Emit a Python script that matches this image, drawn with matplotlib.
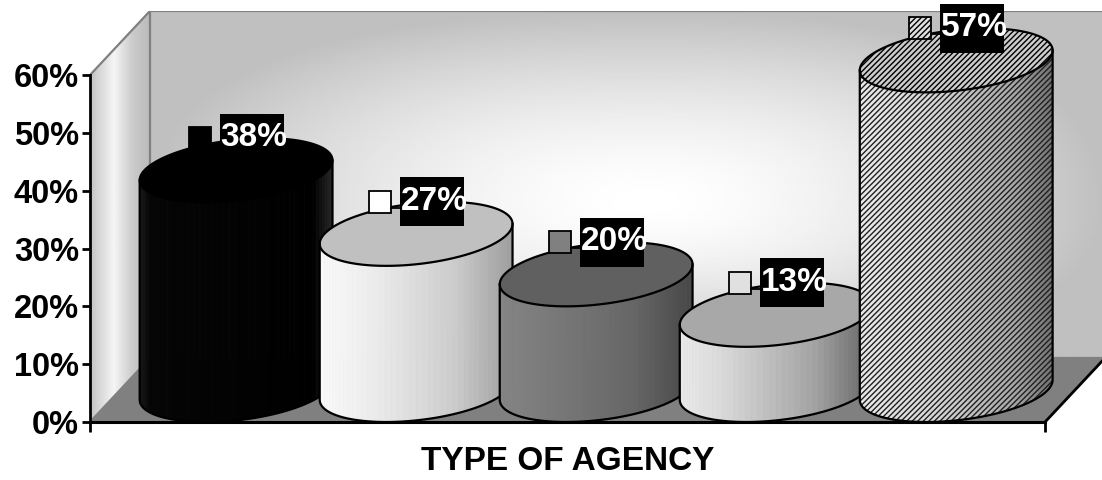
import numpy as np
import matplotlib
matplotlib.use('Agg')
import matplotlib.pyplot as plt
from matplotlib.patches import Polygon, Rectangle
from matplotlib.collections import PolyCollection
import matplotlib.transforms as mtransforms
from matplotlib.lines import Line2D

plt.rcParams['font.family'] = ['Liberation Sans', 'DejaVu Sans']
plt.rcParams['hatch.linewidth'] = 1.0

# ---------------- data ----------------
values = [38, 27, 20, 13, 57]
value_labels = ['38%', '27%', '20%', '13%', '57%']
y_ticks = [0, 10, 20, 30, 40, 50, 60]
y_tick_labels = ['0%', '10%', '20%', '30%', '40%', '50%', '60%']
x_title = 'TYPE OF AGENCY'

# ---------------- styles ----------------
side_stops = [
    [(0.0, 0.10), (0.06, 0.02), (0.9, 0.0), (1.0, 0.15)],
    [(0.0, 0.98), (0.3, 0.92), (0.7, 0.80), (1.0, 0.62)],
    [(0.0, 0.52), (0.3, 0.47), (0.7, 0.40), (1.0, 0.28)],
    [(0.0, 0.92), (0.25, 0.84), (0.7, 0.64), (1.0, 0.40)],
    [(0.0, 0.92), (0.4, 0.84), (0.8, 0.66), (1.0, 0.45)],
]
top_colors = ['#000000', '#c0c0c0', '#606060', '#a8a8a8', '#cccccc']
key_colors = ['#000000', '#ffffff', '#808080', '#e0e0e0', '#e0e0e0']
hatched = [False, False, False, False, True]

W, H = 1102, 480
fig = plt.figure(figsize=(W / 100, H / 100), dpi=100)
fig.patch.set_facecolor('white')

XMIN, XMAX = -0.645, 4.66     # front floor edge (category units)
DX, DY = 0.333, 11.07         # depth offset (x units, percent)
YMAX = 60
R = 0.509                     # cylinder radius along x

ax = fig.add_axes([90 / W, 58 / H, (1105 - 90) / W, (469 - 58) / H])
ax.set_xlim(XMIN, XMAX + DX)
ax.set_ylim(0, YMAX + DY)
ax.patch.set_visible(False)

# ---------------- walls ----------------
nx, ny = 300, 200
u = np.linspace(0, 1, nx)[None, :]
v = np.linspace(0, 1, ny)[:, None]
cu, cv = 0.52, 0.45
du = np.where(u < cu, (cu - u) / cu, (u - cu) / (1 - cu))
dv = np.where(v < cv, (cv - v) / cv, (v - cv) / (1 - cv))
p = 2.5
d = np.clip((du ** p + dv ** p) ** (1 / p), 0, 1)
g = 0.75 + 0.25 * (1 - d ** 1.6)
ax.imshow(g, cmap='gray', vmin=0, vmax=1, origin='lower', aspect='auto',
          interpolation='bilinear',
          extent=[XMIN + DX, XMAX + DX, DY, YMAX + DY], zorder=0)

lw_poly = Polygon([(XMIN, 0), (XMIN + DX, DY), (XMIN + DX, YMAX + DY), (XMIN, YMAX)],
                  closed=True, transform=ax.transData)
uu = np.linspace(0, 1, 100)
gl = np.interp(uu, [0, 0.15, 0.4, 0.7, 1.0], [0.76, 0.84, 0.96, 0.80, 0.73])
gl = np.tile(gl[None, :], (50, 1))
im_l = ax.imshow(gl, cmap='gray', vmin=0, vmax=1, origin='lower', aspect='auto',
                 interpolation='bilinear', extent=[XMIN, XMIN + DX, 0, YMAX + DY], zorder=0.5)
im_l.set_clip_path(lw_poly)

floor = Polygon([(XMIN, 0), (XMAX, 0), (XMAX + DX, DY), (XMIN + DX, DY)], closed=True,
                facecolor='#808080', edgecolor='none', zorder=1)
ax.add_patch(floor)

wall_edge = dict(color='#808080', lw=1.6, zorder=1.5, solid_capstyle='butt')
ax.plot([XMIN, XMIN + DX], [YMAX, YMAX + DY], **wall_edge)
ax.plot([XMIN + DX, XMAX + DX], [YMAX + DY, YMAX + DY], **wall_edge)
ax.plot([XMIN + DX, XMIN + DX], [DY, YMAX + DY], **wall_edge)
ax.plot([XMIN + DX, XMAX + DX], [DY, DY], **wall_edge)
ax.plot([XMIN, XMIN + DX], [0, DY], **wall_edge)
ax.plot([XMAX, XMAX + DX], [0, DY], color='black', lw=2.0, zorder=1.6)

# ---------------- cylinders ----------------
t0 = np.arctan2(DX / 2, R)


def ell(cx, y0, t):
    x = cx + DX / 2 + R * np.cos(t) + (DX / 2) * np.sin(t)
    y = y0 + DY / 2 + (DY / 2) * np.sin(t)
    return x, y


def gray_at(stops, f):
    xs = [s[0] for s in stops]
    ys = [s[1] for s in stops]
    gv = float(np.interp(f, xs, ys))
    return (gv, gv, gv)


N = 48
for i, val in enumerate(values):
    cx = float(i)
    z = 10 + 3 * i
    ts = np.linspace(t0 + np.pi, t0 + 2 * np.pi, N + 1)
    xt, yt = ell(cx, val, ts)
    xb, yb = ell(cx, 0, ts)
    xl, xr = xt.min(), xt.max()
    polys, cols = [], []
    for k in range(N):
        polys.append([(xt[k], yt[k]), (xt[k + 1], yt[k + 1]),
                      (xb[k + 1], yb[k + 1]), (xb[k], yb[k])])
        f = ((xt[k] + xt[k + 1]) / 2 - xl) / (xr - xl)
        cols.append(gray_at(side_stops[i], f))
    pc = PolyCollection(polys, facecolors=cols, edgecolors=cols, linewidths=0.6, zorder=z)
    ax.add_collection(pc)
    side_x = np.concatenate([xt, xb[::-1]])
    side_y = np.concatenate([yt, yb[::-1]])
    if hatched[i]:
        ax.add_patch(Polygon(np.column_stack([side_x, side_y]), closed=True, facecolor='none',
                             edgecolor='#202020', lw=0, hatch='//////', zorder=z + 0.1))
    tt = np.linspace(0, 2 * np.pi, 200)
    xe, ye = ell(cx, val, tt)
    ax.add_patch(Polygon(np.column_stack([xe, ye]), closed=True, facecolor=top_colors[i],
                         edgecolor='black', lw=1.6,
                         hatch='//////' if hatched[i] else None, zorder=z + 0.2))
    ax.plot(np.concatenate([[xt[0]], xb, [xt[-1]]]),
            np.concatenate([[yt[0]], yb, [yt[-1]]]),
            color='black', lw=1.6, zorder=z + 0.3, solid_joinstyle='round')

# ---------------- data labels ----------------
for i, val in enumerate(values):
    axx = float(i) + DX / 2
    axy = val + DY
    trans = fig.dpi_scale_trans + mtransforms.ScaledTranslation(axx, axy, ax.transData)
    ax.add_patch(Rectangle((-0.475, -0.11), 0.22, 0.22, transform=trans,
                           facecolor=key_colors[i], edgecolor='black', lw=1.3,
                           hatch='//////' if hatched[i] else None,
                           clip_on=False, zorder=100))
    ax.add_line(Line2D([-0.255, -0.165], [-0.06, -0.06], transform=trans, color='black',
                       lw=1.3, clip_on=False, zorder=100))
    ax.add_patch(Rectangle((-0.165, -0.245), 0.64, 0.49, transform=trans,
                           facecolor='black', edgecolor='none', clip_on=False, zorder=101))
    ax.text(-0.155, -0.08, value_labels[i], transform=trans, ha='left', va='baseline',
            color='white', fontsize=24, fontweight='bold', clip_on=False, zorder=102)

# ---------------- axes ----------------
for s in ['top', 'right']:
    ax.spines[s].set_visible(False)
ax.spines['left'].set_bounds(0, YMAX)
ax.spines['left'].set_linewidth(2.0)
ax.spines['bottom'].set_bounds(XMIN, XMAX)
ax.spines['bottom'].set_linewidth(2.2)
ax.spines['left'].set_zorder(60)
ax.spines['bottom'].set_zorder(5)

ax.set_yticks(y_ticks)
ax.set_yticklabels(y_tick_labels, fontsize=23.5, fontweight='bold')
ax.tick_params(axis='y', direction='out', length=6, width=2, pad=2)
ax.set_xticks([XMIN, XMAX])
ax.set_xticklabels(['', ''])
ax.tick_params(axis='x', direction='out', length=7.5, width=2)

fig.text(568 / W, 1 - 461 / H, x_title, ha='center', va='center',
         fontsize=24, fontweight='bold')

fig.savefig('out.png', dpi=100)
